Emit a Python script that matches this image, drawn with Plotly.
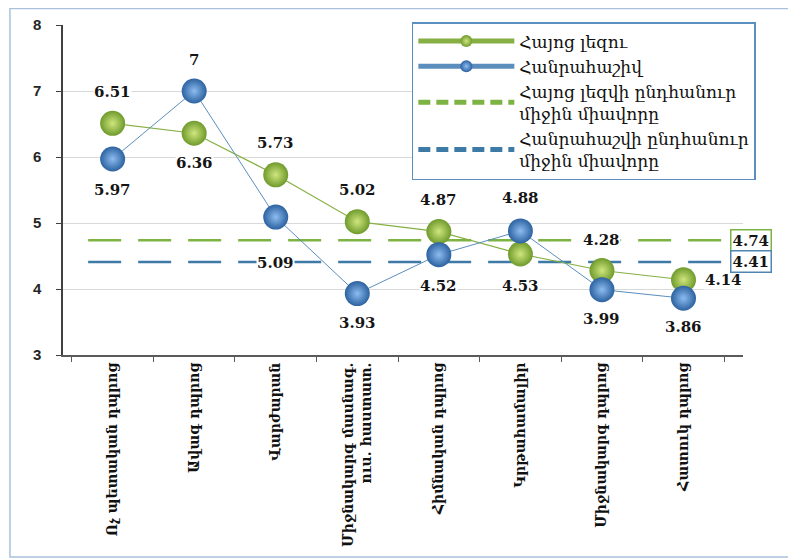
import plotly.graph_objects as go

categories = [
    "Ոչ պետական դպրոց",
    "Ավագ դպրոց",
    "Վարժարան",
    "Միջնակարգ մասնագ.<br>ուս. հաստատ.",
    "Հիմնական դպրոց",
    "Կրթահամալիր",
    "Միջնակարգ դպրոց",
    "Հատուկ դպրոց",
]
armenian = [6.51, 6.36, 5.73, 5.02, 4.87, 4.53, 4.28, 4.14]
algebra = [5.97, 7.00, 5.09, 3.93, 4.52, 4.88, 3.99, 3.86]
armenian_avg = 4.74
algebra_avg = 4.41

name_arm = "Հայոց լեզու"
name_alg = "Հանրահաշիվ"
name_arm_avg = "Հայոց լեզվի ընդհանուր<br>միջին միավորը"
name_alg_avg = "Հանրահաշվի ընդհանուր<br>միջին միավորը"

GREEN_LINE = "#86b043"
BLUE_LINE = "#5b8ebc"
GREEN_AVG = "#7cb342"
BLUE_AVG = "#3d7aa6"
SERIF = "DejaVu Serif"

# label placement (style): vertical shift in px, horizontal shift in px
arm_shift = [(31, 0), (-30, 0), (32, 0), (32, 0), (32, 0), (-32, 0), (31, 0), (0, 40)]
alg_shift = [(-31, 0), (31, 0), (-46, 0), (-29, 0), (-31, 0), (33, 0), (-29, 0), (-29, 0)]

fig = go.Figure()

fig.add_trace(go.Scatter(
    x=categories, y=armenian, name=name_arm, mode="lines+markers",
    line=dict(color=GREEN_LINE, width=1.2),
    marker=dict(size=25, color="#6f9a2c", line=dict(width=0),
                gradient=dict(type="radial", color="#cfe67e")),
))
fig.add_trace(go.Scatter(
    x=categories, y=algebra, name=name_alg, mode="lines+markers",
    line=dict(color=BLUE_LINE, width=1),
    marker=dict(size=25, color="#2c62a0", line=dict(width=0),
                gradient=dict(type="radial", color="#8dbcf0")),
))
# legend entries for the average lines
fig.add_trace(go.Scatter(x=[None], y=[None], name=name_arm_avg, mode="lines",
                         line=dict(color=GREEN_AVG, width=2.5, dash="12px,6px")))
fig.add_trace(go.Scatter(x=[None], y=[None], name=name_alg_avg, mode="lines",
                         line=dict(color=BLUE_AVG, width=2.5, dash="12px,6px")))

shapes = []
for val, col in [(armenian_avg, GREEN_AVG), (algebra_avg, BLUE_AVG)]:
    shapes.append(dict(type="line", xref="paper", yref="y", x0=0.037, x1=0.969,
                       y0=val, y1=val, layer="below",
                       line=dict(color=col, width=2.5, dash="33px,17px")))
# outer chart border
shapes.append(dict(type="rect", xref="paper", yref="paper", x0=-0.078, x1=1.069,
                   y0=-0.612, y1=1.05, line=dict(color="#a9c1da", width=1.5)))

annotations = []
for i, v in enumerate(armenian):
    dy, dx = arm_shift[i]
    annotations.append(dict(x=categories[i], y=v, text=f"{v:.2f}", showarrow=False,
                            yshift=dy, xshift=dx, bgcolor="white", borderpad=0,
                            font=dict(family=SERIF, size=15, color="#151515", weight="bold")))
for i, v in enumerate(algebra):
    dy, dx = alg_shift[i]
    txt = f"{v:g}" if v == int(v) else f"{v:.2f}"
    annotations.append(dict(x=categories[i], y=v, text=txt, showarrow=False,
                            yshift=dy, xshift=dx, bgcolor="white", borderpad=0,
                            font=dict(family=SERIF, size=15, color="#151515", weight="bold")))
for val, col in [(armenian_avg, "#7cb342"), (algebra_avg, "#4f86b4")]:
    annotations.append(dict(xref="paper", yref="y", x=1.012, y=val, text=f"{val:.2f}",
                            xanchor="center", yanchor="middle",
                            showarrow=False, bgcolor="white", bordercolor=col,
                            borderwidth=1.5, borderpad=1,
                            font=dict(family=SERIF, size=15, color="#151515", weight="bold")))

fig.update_layout(
    width=788, height=551,
    margin=dict(l=55, r=53, t=17, b=204, autoexpand=False),
    plot_bgcolor="white", paper_bgcolor="white",
    showlegend=True,
    legend=dict(x=0.513, y=1.009, xanchor="left", yanchor="top",
                bgcolor="white", bordercolor="#5b8fc0", borderwidth=1.5,
                font=dict(family=SERIF, size=17, color="#111111"),
                itemsizing="constant", itemwidth=96, tracegroupgap=2),
    shapes=shapes,
    annotations=annotations,
    xaxis=dict(
        type="category", categoryorder="array", categoryarray=categories,
        showline=True, linecolor="#5a5a5a", linewidth=2,
        ticks="outside", tickson="boundaries", ticklen=5, tickcolor="#5a5a5a",
        tickangle=-90, showgrid=False, automargin=False,
        tickfont=dict(family=SERIF, size=14, color="#111111", weight="bold"),
    ),
    yaxis=dict(
        range=[3, 8], dtick=1, showline=True, linecolor="#404040", linewidth=1.5,
        ticks="outside", ticklen=5, tickcolor="#404040", automargin=False,
        showgrid=True, gridcolor="#d9d9d9", gridwidth=1, zeroline=False,
        tickfont=dict(family="Liberation Sans", size=15, color="#262626", weight="bold"),
        ticklabelstandoff=12,
    ),
)

fig.write_html("out.html")
